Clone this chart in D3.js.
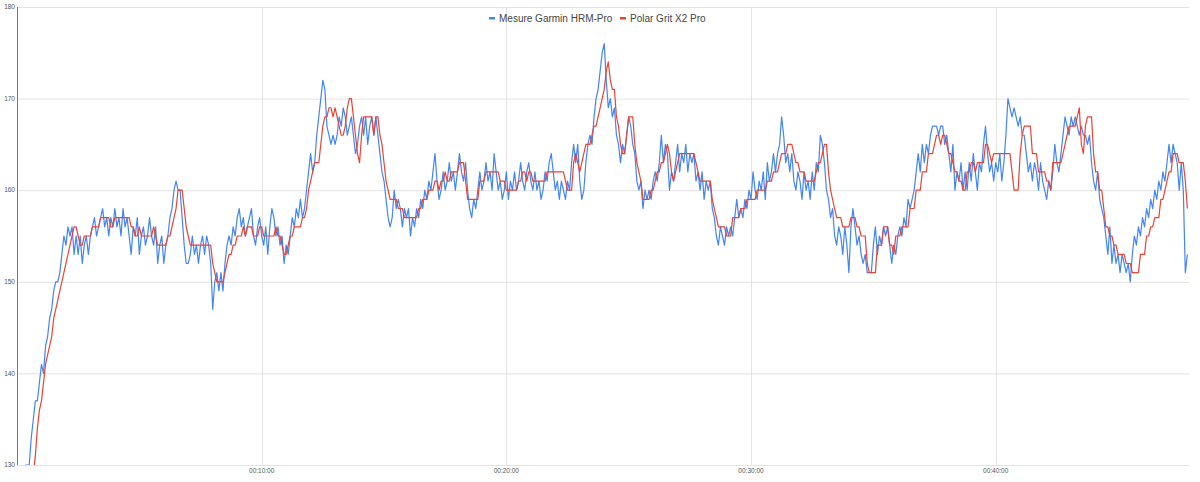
<!DOCTYPE html>
<html>
<head>
<meta charset="utf-8">
<script src="https://cdn.jsdelivr.net/npm/d3@7"></script>
<style>
body { margin: 0; background: #fff; }
svg { display: block; font-family: "Liberation Sans", Arial, sans-serif; }
</style>
</head>
<body>
<div id="chart"></div>
<script>
var w = 1200;
var h = 482;

var seriesNames = ["Mesure Garmin HRM-Pro", "Polar Grit X2 Pro"];
var seriesColors = ["#4285f4", "#ea4335"];
var yTicks = [130, 140, 150, 160, 170, 180];
var xTickSeconds = [600, 1200, 1800, 2400];
var xTickLabels = ["00:10:00", "00:20:00", "00:30:00", "00:40:00"];
var firstSecond = 20;
var stepSeconds = 5;

// bpm, one reading every 5 s
var garmin = [
130,130,130,133,135,137,137,139,141,140,
143,144,146,147,149,150,150,151,153,155,
154,156,155,156,153,155,153,155,152,154,
155,153,155,156,157,155,156,157,158,156,
157,155,157,156,158,156,157,155,158,156,
157,155,153,156,155,157,153,155,156,154,
155,157,155,154,156,152,154,155,152,154,
155,157,158,160,161,160,160,157,154,152,
152,153,155,153,154,152,154,155,153,155,
154,152,147,150,151,149,151,149,152,154,
155,154,156,155,157,158,156,157,155,156,
157,158,155,154,156,157,155,154,156,153,
156,158,157,155,156,154,155,152,154,153,
155,157,156,158,157,159,157,158,160,162,
164,162,163,166,168,170,172,171,167,166,
165,166,165,166,168,167,169,168,166,167,
168,166,164,165,167,168,166,168,165,167,
168,166,168,166,164,162,161,159,157,156,
157,160,158,159,158,156,158,157,158,155,
157,156,158,157,159,158,160,159,161,160,
162,164,161,159,160,162,160,161,163,161,
162,160,162,164,162,161,163,160,158,157,
159,158,160,162,160,161,163,161,162,160,
164,162,160,161,159,160,162,159,161,160,
162,160,161,163,161,160,162,163,161,160,
162,160,161,159,160,162,161,163,164,162,
160,161,159,161,160,159,161,160,163,165,
163,165,161,159,160,163,165,166,165,168,
170,171,173,175,176,172,169,170,168,169,
166,165,163,165,164,166,168,167,165,164,
161,160,161,158,160,159,160,159,161,162,
161,163,166,163,165,164,160,162,161,163,
165,162,164,163,165,162,164,163,164,161,
162,160,162,159,161,160,161,158,157,155,
154,156,155,154,156,155,156,155,157,159,
157,158,157,159,158,160,159,162,160,159,
161,160,162,159,163,161,162,164,162,164,
165,168,166,163,164,162,164,161,160,162,
161,159,162,160,161,159,162,160,163,162,
166,165,163,160,159,157,158,155,154,156,
155,153,156,154,151,156,158,156,154,155,
153,152,153,151,151,151,154,156,153,155,
154,156,155,156,154,152,154,153,155,156,
155,157,156,159,158,159,160,162,164,162,
165,163,165,164,166,167,167,167,166,167,
167,165,166,164,162,165,160,162,161,163,
160,162,160,163,161,164,162,160,163,162,
165,167,164,162,163,161,163,162,164,161,
163,166,170,169,168,169,168,167,168,166,
166,164,162,163,161,163,162,160,163,161,
160,159,161,160,162,165,163,162,164,166,
168,167,166,168,167,168,167,166,167,166,
166,165,166,163,161,160,162,159,158,157,
155,153,156,152,154,152,153,151,153,152,
151,152,150,153,155,154,156,155,157,156,
158,157,159,158,160,159,161,160,162,161,
163,165,163,165,164,163,160,163,160,151,
153
];

var polar = [
122,124,126,128,129,131,134,136,137,139,
141,142,143,144,146,147,148,149,150,151,
152,153,154,155,156,156,155,154,154,155,
155,155,155,156,156,156,156,157,157,157,
157,157,156,156,157,157,157,157,157,157,
157,157,156,156,155,155,156,155,155,155,
155,155,155,156,155,154,154,154,154,154,
155,155,156,157,158,160,160,160,158,156,
155,154,154,154,154,154,154,154,154,154,
154,154,152,151,150,150,150,150,151,152,
153,153,154,154,155,155,155,156,155,156,
156,156,155,155,155,156,156,155,155,155,
155,155,155,156,155,155,154,153,153,154,
155,155,156,156,156,156,157,157,158,160,
161,162,163,163,163,165,167,168,168,169,
169,168,169,168,167,166,166,167,169,170,
170,168,166,164,163,166,168,168,168,168,
168,166,168,168,166,165,163,161,160,159,
159,159,159,158,158,158,157,157,157,157,
157,157,157,158,158,159,159,159,160,160,
160,161,161,160,161,161,162,161,161,162,
162,162,162,163,163,163,161,159,159,159,
159,159,159,161,161,161,162,162,162,162,
162,162,162,161,161,161,160,160,160,160,
160,160,161,161,162,162,161,162,162,161,
161,161,161,161,161,161,162,162,162,162,
162,162,162,162,162,161,160,160,160,163,
164,163,162,163,164,165,165,165,166,167,
167,168,169,170,171,173,174,172,171,171,
168,167,165,164,164,166,168,168,168,165,
163,162,161,159,159,159,159,160,160,161,
162,162,163,163,164,165,164,162,161,162,
163,164,164,164,164,164,164,164,164,163,
162,161,161,161,161,161,161,159,158,157,
156,156,156,156,155,155,155,157,157,157,
157,158,158,158,159,159,159,159,159,160,
160,160,160,160,161,161,161,162,162,162,
163,164,164,164,165,165,165,164,163,163,
162,162,162,161,161,161,161,161,162,163,
163,164,165,165,162,160,159,158,157,157,
157,156,156,156,156,157,157,157,156,156,
155,155,155,152,151,151,151,151,154,154,
154,156,156,156,154,154,153,155,155,155,
156,156,156,156,158,158,158,160,160,160,
162,162,162,164,164,164,165,166,166,165,
166,166,165,164,164,163,162,162,161,161,
160,160,162,162,163,163,162,163,163,163,
163,165,165,164,163,164,164,164,164,164,
164,164,164,164,162,160,160,160,164,166,
167,167,167,167,164,164,164,162,162,162,
162,161,161,160,163,163,163,163,163,164,
165,166,167,167,167,167,168,169,165,164,
167,168,168,168,164,162,162,160,160,158,
156,156,155,155,154,154,153,153,153,153,
152,152,152,151,151,151,151,153,153,153,
155,155,156,156,157,157,157,159,159,160,
161,162,162,164,164,164,163,163,163,161,
158
];

var margin = {left: 17, right: 11, top: 7, bottom: 17};

function init()
{
    var svg = d3.select("#chart").append("svg").attr("width", w).attr("height", h);

    var xScale = d3.scaleLinear().domain([0, 2874]).range([margin.left, w - margin.right]);
    var yScale = d3.scaleLinear().domain([130, 180]).range([h - margin.bottom, margin.top]);

    // grid
    svg.append("g").selectAll("line")
    .data(yTicks)
    .enter()
    .append("line")
    .attr("x1", margin.left)
    .attr("x2", w - margin.right)
    .attr("y1", (d) => yScale(d) + 0.5)
    .attr("y2", (d) => yScale(d) + 0.5)
    .attr("stroke", "#e3e3e3")
    .attr("stroke-width", 1);

    svg.append("g").selectAll("line")
    .data(xTickSeconds)
    .enter()
    .append("line")
    .attr("x1", (d) => Math.round(xScale(d)) + 0.5)
    .attr("x2", (d) => Math.round(xScale(d)) + 0.5)
    .attr("y1", margin.top)
    .attr("y2", h - margin.bottom)
    .attr("stroke", "#e3e3e3")
    .attr("stroke-width", 1);

    // tick labels
    svg.append("g").selectAll("text")
    .data(yTicks)
    .enter()
    .append("text")
    .attr("x", margin.left - 2)
    .attr("y", (d) => yScale(d))
    .attr("dy", "0.35em")
    .attr("text-anchor", "end")
    .attr("font-size", "6.5px")
    .attr("fill", "#555")
    .text((d) => d);

    svg.append("g").selectAll("text")
    .data(xTickSeconds)
    .enter()
    .append("text")
    .attr("x", (d) => xScale(d))
    .attr("y", h - margin.bottom + 6)
    .attr("dy", "0.35em")
    .attr("text-anchor", "middle")
    .attr("font-size", "6.5px")
    .attr("fill", "#555")
    .text((d, i) => xTickLabels[i]);

    // lines
    svg.append("clipPath").attr("id", "plotClip")
    .append("rect")
    .attr("x", margin.left)
    .attr("y", margin.top - 1)
    .attr("width", w - margin.left - margin.right)
    .attr("height", h - margin.top - margin.bottom + 1);

    var line = d3.line()
    .x((d, i) => xScale(firstSecond + i * stepSeconds))
    .y((d) => yScale(d));

    var plot = svg.append("g").attr("clip-path", "url(#plotClip)");
    [garmin, polar].forEach(function(values, k) {
        plot.append("path")
        .attr("d", line(values))
        .attr("fill", "none")
        .attr("stroke", seriesColors[k])
        .attr("stroke-width", 1.2)
        .attr("stroke-linejoin", "round");
    });

    // axis line on the left
    svg.append("line")
    .attr("x1", margin.left + 0.5)
    .attr("x2", margin.left + 0.5)
    .attr("y1", margin.top)
    .attr("y2", h - margin.bottom)
    .attr("stroke", "#777")
    .attr("stroke-width", 1);

    // legend
    var legend = svg.append("g");
    var legendX = [489, 620];
    seriesNames.forEach(function(name, k) {
        legend.append("rect")
        .attr("x", legendX[k])
        .attr("y", 17)
        .attr("width", 6)
        .attr("height", 2.5)
        .attr("fill", seriesColors[k]);
        legend.append("text")
        .attr("x", legendX[k] + 10)
        .attr("y", 18.5)
        .attr("dy", "0.35em")
        .attr("font-size", "10px")
        .attr("fill", "#444")
        .text(name);
    });
}

window.onload = init;
</script>
</body>
</html>
